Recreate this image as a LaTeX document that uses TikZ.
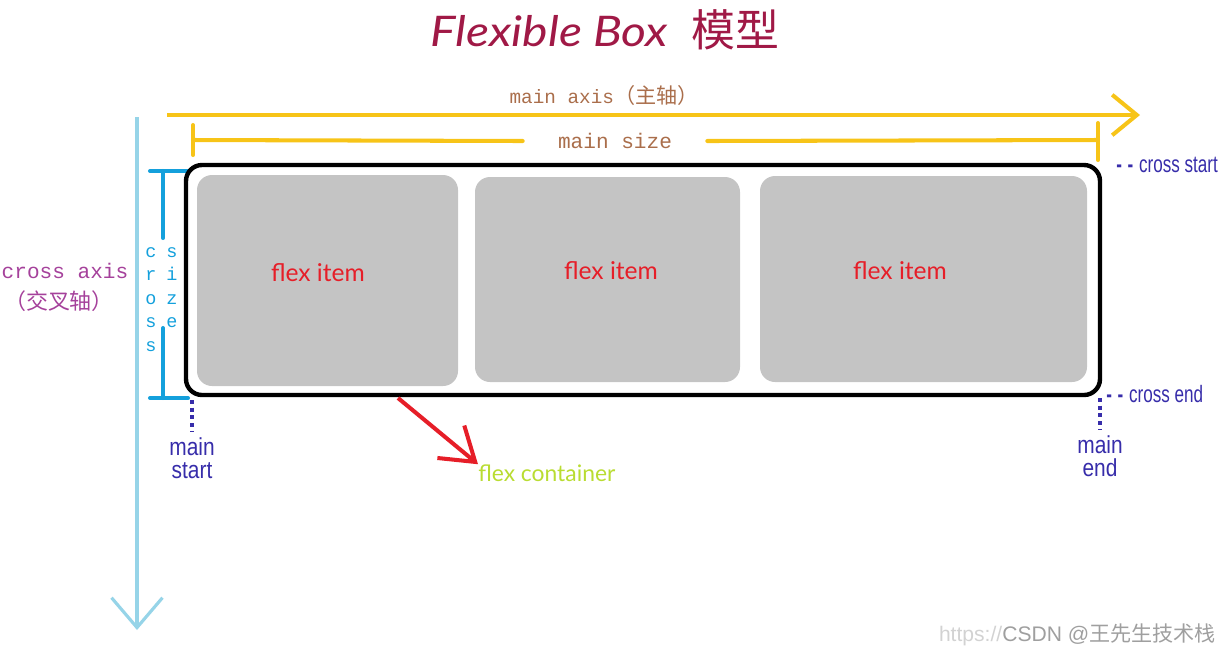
\documentclass[tikz,border=0pt]{standalone}
\usepackage{fontspec}
\usepackage{graphicx}
\usepackage{tikz}
\usetikzlibrary{arrows.meta}
\usetikzlibrary{positioning}
\usetikzlibrary{calc}

\setmainfont{Lato}
\newfontfamily\cjk{Noto Sans CJK SC}
\newfontfamily\monofam{Liberation Mono}
\newfontfamily\narrowfam{Liberation Sans}

\definecolor{titlered}{RGB}{160,25,70}
\definecolor{flexyellow}{RGB}{247,196,24}
\definecolor{axisbrown}{RGB}{170,110,75}
\definecolor{axisblue}{RGB}{150,212,232}
\definecolor{crossblue}{RGB}{20,160,220}
\definecolor{crosspurple}{RGB}{165,65,155}
\definecolor{itemgray}{RGB}{196,196,196}
\definecolor{itemred}{RGB}{230,30,40}
\definecolor{containergreen}{RGB}{185,220,50}
\definecolor{labelblue}{RGB}{55,45,170}

\tikzstyle{mainaxis} = [flexyellow, line width=2.3pt, -{Straight Barb[length=14pt,width=23pt]}]
\tikzstyle{sizebar} = [flexyellow, line width=2.3pt, line cap=round]
\tikzstyle{axistext} = [text=axisbrown, font=\monofam\fontsize{11}{13}\selectfont]
\tikzstyle{crossaxis} = [axisblue, line width=1.8pt, -{Straight Barb[length=17pt,width=29pt]}]
\tikzstyle{crossbar} = [crossblue, line width=2.3pt, line cap=round]
\tikzstyle{crosstext} = [text=crossblue, font=\monofam\fontsize{10.5}{13.4}\selectfont, align=center, inner sep=0pt]
\tikzstyle{container} = [draw=black, line width=2.5pt, rounded corners=0.32cm]
\tikzstyle{flexitem} = [fill=itemgray, rounded corners=0.3cm]
\tikzstyle{itemtext} = [text=itemred, font=\fontsize{14}{16}\selectfont]
\tikzstyle{redarrow} = [itemred, line width=2.3pt, -{Straight Barb[length=18pt,width=24pt]}]
\tikzstyle{bluelabel} = [text=labelblue, font=\narrowfam\fontsize{13.5}{13}\selectfont, inner sep=0pt, align=center]
\tikzstyle{dotline} = [labelblue, line width=2pt, dash pattern=on 2.2pt off 2.2pt]

\begin{document}
\begin{tikzpicture}[x=0.02cm, y=-0.02cm]
	\useasboundingbox (0,0) rectangle (1231,654);

	% Title
	\node[text=titlered, font=\itshape\fontsize{24}{26}\selectfont] (title) at (605,30) {\scalebox{1.14}[1]{Flexible Box}\;\;{\cjk\upshape\fontsize{25}{26}\selectfont 模型}};

	% Main axis
	\coordinate (mastart) at (167,115);
	\coordinate (maend) at (1140,115);
	\draw[mainaxis] (mastart) -- (maend);
	\node[axistext] (matext) at (604,95) {main axis{\cjk\fontsize{12}{13}\selectfont （主轴）}};

	% Main size
	\coordinate (msleft) at (193,140);
	\coordinate (msright) at (1098,140);
	\node[axistext, font=\monofam\fontsize{12}{14}\selectfont, inner xsep=0.7cm] (mstext) at (615,141) {main size};
	\draw[sizebar] (msleft) -- (mstext.west);
	\draw[sizebar] (mstext.east) -- (msright);
	\draw[sizebar] ($(msleft)+(0,-15)$) -- ($(msleft)+(0,15)$);
	\draw[sizebar] ($(msright)+(0,-17)$) -- ($(msright)+(0,20)$);

	% Cross axis
	\coordinate (castart) at (137,117);
	\coordinate (caend) at (137,630);
	\draw[crossaxis] (castart) -- (caend);
	\node[text=crosspurple, font=\monofam\fontsize{12}{14}\selectfont] (catext) at (65,271) {cross axis};
	\node[text=crosspurple, font=\cjk\fontsize{12.5}{14}\selectfont, below = 0pt of catext, xshift=-0.12cm] (catextcn) {（交叉轴）};

	% Cross size
	\coordinate (cstop) at (163,171);
	\coordinate (csbot) at (163,398);
	\draw[crossbar] ($(cstop)+(-13,0)$) -- ($(cstop)+(25,0)$);
	\draw[crossbar] ($(csbot)+(-13,0)$) -- ($(csbot)+(25,0)$);
	\draw[crossbar] (cstop) -- ($(cstop)+(0,67)$);
	\draw[crossbar] ($(csbot)+(0,-70)$) -- (csbot);
	\node[crosstext, anchor=north] (crossword) at (151,247) {c\\r\\o\\s\\s};
	\node[crosstext, anchor=north] (sizeword) at (172,247) {s\\i\\z\\e};

	% Flex items
	\fill[flexitem] (197,175) rectangle (458,386);
	\fill[flexitem] (475,177) rectangle (740,382);
	\fill[flexitem] (760,176) rectangle (1087,382);
	\node[itemtext] (item1) at (318,273) {flex item};
	\node[itemtext] (item2) at (611,271) {flex item};
	\node[itemtext] (item3) at (900,271) {flex item};

	% Flex container
	\coordinate (boxnw) at (186,165);
	\coordinate (boxse) at (1100,395);
	\draw[container] (boxnw) rectangle (boxse);
	\coordinate (fcstart) at (398,398);
	\node[text=containergreen, font=\fontsize{13}{15}\selectfont, anchor=west, inner sep=0pt] (fctext) at (478,473) {flex container};
	\draw[redarrow] (fcstart) -- (fctext.north west);

	% Cross start / end
	\node[bluelabel, anchor=west] (cstart) at (1116,165) {\scalebox{0.72}[1]{\textbf{-}\,\,\textbf{-}\,\,cross start}};
	\node[bluelabel, anchor=west] (cend) at (1106,394) {\scalebox{0.72}[1]{\textbf{-}\,\,\textbf{-}\,\,cross end}};

	% Main start / end
	\coordinate (mstartdot) at (192,400);
	\coordinate (menddot) at (1100,398);
	\node[bluelabel, below = 0.74cm of mstartdot, font=\narrowfam\fontsize{14}{13}\selectfont] (mstart) {\scalebox{0.85}[1]{main}\\\scalebox{0.85}[1]{start}};
	\node[bluelabel, below = 0.74cm of menddot, font=\narrowfam\fontsize{14}{13}\selectfont] (mend) {\scalebox{0.85}[1]{main}\\\scalebox{0.85}[1]{end}};
	\draw[dotline, shorten >=3pt] (mstartdot) -- (mstart.north);
	\draw[dotline, shorten >=3pt] (menddot) -- (mend.north);

	% Watermark
	\node[text=gray!75, font=\narrowfam\fontsize{12}{14}\selectfont, anchor=east] (mark) at (1222,635) {{\color{gray!35}https://}CSDN @{\cjk 王先生技术栈}};

\end{tikzpicture}
\end{document}
